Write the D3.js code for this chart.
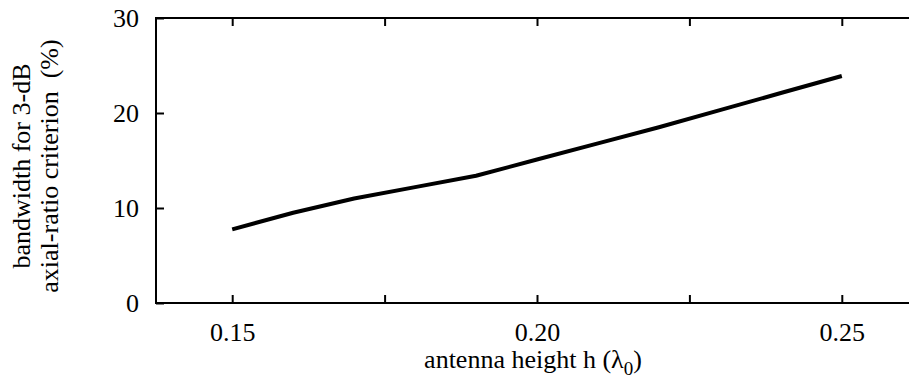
<!DOCTYPE html>
<html>
<head>
<meta charset="utf-8">
<script src="https://cdn.jsdelivr.net/npm/d3@7"></script>
<style>
  html, body { margin: 0; padding: 0; background: #fff; }
  svg { display: block; font-family: "Liberation Serif", "Times New Roman", serif; }
</style>
</head>
<body>
<svg id="chart" width="909" height="381"></svg>
<script>
// antenna height h (λ0) vs bandwidth (%)
const alturas = [0.15, 0.16, 0.17, 0.18, 0.19, 0.20, 0.21, 0.22, 0.23, 0.24, 0.25];
const banda   = [7.75, 9.5, 11.0, 12.2, 13.4, 15.1, 16.8, 18.5, 20.3, 22.1, 23.9];

const ticksX   = [0.15, 0.175, 0.20, 0.225, 0.25];
const rotulosX = { 0.15: "0.15", 0.2: "0.20", 0.25: "0.25" };
const ticksY   = [0, 10, 20, 30];

const svg = d3.select("#chart");
const esq = 156, dir = 918, topo = 18, base = 303;

const x = d3.scaleLinear().domain([0.1375, 0.2625]).range([esq, dir]);
const y = d3.scaleLinear().domain([0, 30]).range([base, topo]);

// moldura
svg.append("rect")
  .attr("x", esq).attr("y", topo)
  .attr("width", dir - esq).attr("height", base - topo)
  .attr("fill", "none").attr("stroke", "#000").attr("stroke-width", 2);

const estiloEixo = g => {
  g.attr("font-family", null).attr("font-size", null);
  g.select(".domain").remove();
  g.selectAll(".tick line").attr("stroke", "#000").attr("stroke-width", 2);
  g.selectAll(".tick text").attr("fill", "#000").style("font-size", "26px");
};

// eixo inferior
svg.append("g")
  .attr("transform", `translate(0,${base})`)
  .call(d3.axisBottom(x).tickValues(ticksX).tickSizeInner(-8).tickSizeOuter(0)
    .tickFormat(d => rotulosX[+d.toFixed(3)] || ""))
  .call(estiloEixo)
  .call(g => g.selectAll(".tick text").attr("y", 38).attr("dy", 0));

// eixo superior (só marcas)
svg.append("g")
  .attr("transform", `translate(0,${topo})`)
  .call(d3.axisTop(x).tickValues(ticksX).tickSizeInner(-8).tickSizeOuter(0).tickFormat(""))
  .call(estiloEixo);

// eixo esquerdo
svg.append("g")
  .attr("transform", `translate(${esq},0)`)
  .call(d3.axisLeft(y).tickValues(ticksY).tickSizeInner(-8).tickSizeOuter(0)
    .tickFormat(d3.format("d")))
  .call(estiloEixo)
  .call(g => g.selectAll(".tick text").attr("x", -17).attr("dy", "0.33em"));

// eixo direito (só marcas)
svg.append("g")
  .attr("transform", `translate(${dir},0)`)
  .call(d3.axisRight(y).tickValues(ticksY).tickSizeInner(-8).tickSizeOuter(0).tickFormat(""))
  .call(estiloEixo);

// curva
const linha = d3.line()
  .x((d, i) => x(alturas[i]))
  .y(d => y(d));

svg.append("path")
  .datum(banda)
  .attr("d", linha)
  .attr("fill", "none")
  .attr("stroke", "#000")
  .attr("stroke-width", 4)
  .attr("stroke-linejoin", "round");

// título do eixo x
const tx = svg.append("text")
  .attr("x", 533).attr("y", 368)
  .attr("text-anchor", "middle")
  .style("font-size", "26px");
tx.append("tspan").text("antenna height h (λ");
tx.append("tspan").attr("dy", 7).style("font-size", "19px").text("0");
tx.append("tspan").attr("dy", -7).text(")");

// título do eixo y (duas linhas)
const ty = svg.append("g").attr("transform", "translate(0,166) rotate(-90)");
ty.append("text")
  .attr("x", 0).attr("y", 30)
  .attr("text-anchor", "middle")
  .style("font-size", "26px")
  .text("bandwidth for 3-dB");
ty.append("text")
  .attr("x", 0).attr("y", 58)
  .attr("text-anchor", "middle")
  .style("font-size", "26px")
  .style("white-space", "pre")
  .text("axial-ratio criterion  (%)");
</script>
</body>
</html>
